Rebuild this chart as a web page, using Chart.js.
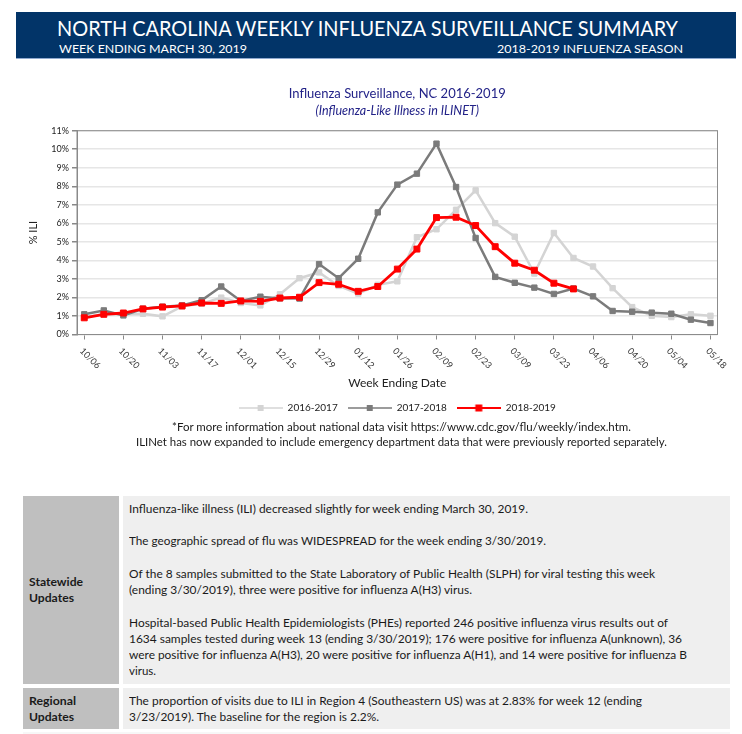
<!DOCTYPE html>
<html>
<head>
<meta charset="utf-8">
<script src="https://cdn.jsdelivr.net/npm/chart.js@4.4.1/dist/chart.umd.min.js"></script>
<style>
  body { margin: 0; background: #fff; font-family: Lato, sans-serif; color: #1a1a1a; }
  .page { position: relative; width: 742px; height: 734px; overflow: hidden; }
  .banner { position: absolute; left: 16px; top: 12px; width: 720px; height: 46px; background: #023468; border-bottom: 1px solid #8fa9cf; }
  .t { position: absolute; white-space: nowrap; transform-origin: 0 50%; }
  .hd { color: #fff; }
  .chartBox { position: absolute; left: 0; top: 78px; width: 742px; height: 345px; }
  .cell { position: absolute; }
  .lab { background: #bfbfbf; }
  .txt { background: #efefef; }
  .tl { font-size: 12px; line-height: 16px; }
  .b { font-weight: bold; }
</style>
</head>
<body>
<div class="page">
  <div class="banner"></div>
  <div class="t hd" style="left:57px;top:15px;font-size:21px;line-height:25px" data-w="621">NORTH CAROLINA WEEKLY INFLUENZA SURVEILLANCE SUMMARY</div>
  <div class="t hd" style="left:59px;top:41.5px;font-size:12px;line-height:14px" data-w="188">WEEK ENDING MARCH 30, 2019</div>
  <div class="t hd" style="left:497px;top:41.5px;font-size:12px;line-height:14px" data-w="186">2018-2019 INFLUENZA SEASON</div>

  <div class="chartBox"><canvas id="iliChart"></canvas></div>

  <div class="t" style="left:172px;top:419.5px;font-size:11px;line-height:14px" data-w="459">*For more information about national data visit https://www.cdc.gov/flu/weekly/index.htm.</div>
  <div class="t" style="left:136px;top:435.3px;font-size:11px;line-height:14px" data-w="531">ILINet has now expanded to include emergency department data that were previously reported separately.</div>

  <div class="cell lab" style="left:23px;top:496px;width:96px;height:188px"></div>
  <div class="cell txt" style="left:123px;top:496px;width:607px;height:188px"></div>
  <div class="cell lab" style="left:23px;top:688px;width:96px;height:41px"></div>
  <div class="cell txt" style="left:123px;top:688px;width:607px;height:41px"></div>
  <div class="cell" style="left:23px;top:732px;width:707px;height:4px;background:#f7f7f7"></div>

  <div class="t tl b" style="left:29px;top:573.7px" data-w="54">Statewide</div>
  <div class="t tl b" style="left:29px;top:589.7px" data-w="45">Updates</div>
  <div class="t tl b" style="left:29px;top:692.7px" data-w="47">Regional</div>
  <div class="t tl b" style="left:29px;top:708.7px" data-w="45">Updates</div>

  <div class="t tl" style="left:129px;top:501px" data-w="399">Influenza-like illness (ILI) decreased slightly for week ending March 30, 2019.</div>
  <div class="t tl" style="left:129px;top:533px" data-w="417">The geographic spread of flu was WIDESPREAD for the week ending 3/30/2019.</div>
  <div class="t tl" style="left:129px;top:566px" data-w="526">Of the 8 samples submitted to the State Laboratory of Public Health (SLPH) for viral testing this week</div>
  <div class="t tl" style="left:129px;top:582px" data-w="343">(ending 3/30/2019), three were positive for influenza A(H3) virus.</div>
  <div class="t tl" style="left:129px;top:615px" data-w="539">Hospital-based Public Health Epidemiologists (PHEs) reported 246 positive influenza virus results out of</div>
  <div class="t tl" style="left:129px;top:631px" data-w="553">1634 samples tested during week 13 (ending 3/30/2019); 176 were positive for influenza A(unknown), 36</div>
  <div class="t tl" style="left:129px;top:647px" data-w="558">were positive for influenza A(H3), 20 were positive for influenza A(H1), and 14 were positive for influenza B</div>
  <div class="t tl" style="left:129px;top:663px" data-w="27">virus.</div>
  <div class="t tl" style="left:129px;top:692.7px" data-w="513">The proportion of visits due to ILI in Region 4 (Southeastern US) was at 2.83% for week 12 (ending</div>
  <div class="t tl" style="left:129px;top:708.7px" data-w="250">3/23/2019). The baseline for the region is 2.2%.</div>
</div>

<script>
// week ending dates, Oct 2018 - May 2019
const weeks = ['10/06', '10/13', '10/20', '10/27', '11/03', '11/10', '11/17', '11/24',
  '12/01', '12/08', '12/15', '12/22', '12/29', '01/05', '01/12', '01/19', '01/26',
  '02/02', '02/09', '02/16', '02/23', '03/02', '03/09', '03/16', '03/23', '03/30',
  '04/06', '04/13', '04/20', '04/27', '05/04', '05/11', '05/18'];

// % ILI per season
const ili1617 = [0.94, 1.09, 1.09, 1.12, 0.98, 1.52, 1.66, 1.99, 1.70, 1.57, 2.17, 3.04,
  3.35, 2.62, 2.21, 2.68, 2.87, 5.25, 5.68, 6.73, 7.78, 6.01, 5.28, 3.29, 5.48, 4.13,
  3.67, 2.50, 1.48, 1.01, 0.94, 1.09, 1.01];
const ili1718 = [1.09, 1.30, 1.03, 1.39, 1.50, 1.57, 1.85, 2.59, 1.81, 2.04, 1.95, 1.94,
  3.80, 3.04, 4.09, 6.59, 8.09, 8.68, 10.30, 7.96, 5.21, 3.11, 2.79, 2.53, 2.19, 2.48,
  2.06, 1.27, 1.23, 1.18, 1.12, 0.80, 0.62];
const ili1819 = [0.90, 1.09, 1.16, 1.38, 1.48, 1.54, 1.70, 1.68, 1.81, 1.79, 1.97, 2.01,
  2.80, 2.71, 2.33, 2.59, 3.53, 4.61, 6.31, 6.33, 5.88, 4.74, 3.85, 3.47, 2.77, 2.46];

const seasons = ['2016-2017', '2017-2018', '2018-2019'];
const yTicks = [0, 1, 2, 3, 4, 5, 6, 7, 8, 9, 10, 11];

const colors = ['#d4d4d4', '#7b7b7b', '#ff0000'];

const toPoints = arr => arr.map((v, i) => ({ x: i, y: v }));

// line + square swatch for the legend
function swatch(color, side) {
  const c = document.createElement('canvas');
  c.width = 44; c.height = 10;
  const g = c.getContext('2d');
  g.strokeStyle = color;
  g.lineWidth = color === '#ff0000' ? 2 : 1.5;
  g.beginPath(); g.moveTo(0, 5); g.lineTo(44, 5); g.stroke();
  g.fillStyle = color;
  g.fillRect(22 - side / 2, 5 - side / 2, side, side);
  return c;
}
const legendImgs = [swatch(colors[0], 6), swatch(colors[1], 6), swatch(colors[2], 7)];

// frame round the plot
const plotFrame = {
  id: 'plotFrame',
  beforeDatasetsDraw(chart) {
    const { ctx, chartArea: a } = chart;
    ctx.save();
    ctx.strokeStyle = '#8c8c8c';
    ctx.lineWidth = 1;
    ctx.strokeRect(a.left, a.top, a.right - a.left, a.bottom - a.top);
    ctx.restore();
  }
};

// slanted week labels, every second week
const weekLabels = {
  id: 'weekLabels',
  afterDraw(chart) {
    const { ctx, scales: { x } } = chart;
    ctx.save();
    ctx.font = '9px Lato';
    ctx.fillStyle = '#333';
    ctx.textBaseline = 'middle';
    ctx.textAlign = 'left';
    weeks.forEach((w, i) => {
      if (i % 2) return;
      ctx.save();
      ctx.translate(x.getPixelForValue(i) - 3, x.top + 15);
      ctx.rotate(Math.PI / 4);
      ctx.fillText(w, 0, 0);
      ctx.restore();
    });
    ctx.restore();
  }
};

Chart.defaults.font.family = 'Lato';
Chart.defaults.color = '#222';

const series = [ili1617, ili1718, ili1819];

new Chart(document.getElementById('iliChart'), {
  type: 'line',
  data: {
    datasets: series.map((s, k) => ({
      label: seasons[k],
      data: toPoints(s),
      borderColor: colors[k],
      backgroundColor: colors[k],
      borderWidth: k === 2 ? 2.8 : 2.5,
      pointStyle: 'rect',
      pointRadius: k === 2 ? 4.2 : 3.8,
      pointBorderWidth: 1,
      pointBorderColor: colors[k],
      pointBackgroundColor: colors[k],
      tension: 0,
      order: 3 - k
    }))
  },
  options: {
    responsive: true,
    maintainAspectRatio: false,
    animation: false,
    layout: { padding: { top: 8, right: 24.5, bottom: 0, left: 0 } },
    scales: {
      x: {
        type: 'linear',
        min: -0.37,
        max: 32.36,
        afterBuildTicks: scale => { scale.ticks = weeks.map((w, i) => ({ value: i })); },
        afterFit: scale => { scale.height = 58.5; },
        ticks: { display: false },
        grid: {
          drawOnChartArea: false,
          tickLength: 5,
          tickColor: c => (c.index % 2 ? 'rgba(0,0,0,0)' : '#888')
        },
        border: { color: '#888' },
        title: {
          display: true,
          text: 'Week Ending Date',
          font: { size: 12 },
          color: '#222',
          padding: { top: 0, bottom: 2.3 }
        }
      },
      y: {
        min: 0,
        max: 11,
        afterBuildTicks: scale => { scale.ticks = yTicks.map(v => ({ value: v })); },
        afterFit: scale => { scale.width = 77; },
        ticks: {
          callback: v => v + '%',
          font: { size: 9 },
          color: '#222',
          padding: 3
        },
        grid: { color: '#e6e6e6', lineWidth: 1.5, tickLength: 5, tickColor: '#888' },
        border: { color: '#888' },
        title: {
          display: true,
          text: '% ILI',
          font: { size: 11 },
          color: '#222',
          padding: { top: 26.7, bottom: 0 }
        }
      }
    },
    plugins: {
      title: {
        display: true,
        fullSize: false,
        text: 'Influenza Surveillance, NC 2016-2019',
        color: '#232388',
        font: { size: 13, weight: 'normal' },
        padding: { top: 0, bottom: 0 }
      },
      subtitle: {
        display: true,
        fullSize: false,
        text: '(Influenza-Like Illness in ILINET)',
        color: '#232388',
        font: { size: 12.5, style: 'italic' },
        padding: { top: 1.5, bottom: 12.6 }
      },
      legend: {
        position: 'bottom',
        fullSize: false,
        labels: {
          usePointStyle: true,
          pointStyleWidth: 44,
          padding: 10,
          font: { size: 10 },
          color: '#222',
          sort: (a, b) => a.datasetIndex - b.datasetIndex,
          generateLabels: chart => Chart.defaults.plugins.legend.labels.generateLabels(chart)
            .map(item => Object.assign(item, { pointStyle: legendImgs[item.datasetIndex] }))
        }
      },
      tooltip: { enabled: false }
    }
  },
  plugins: [plotFrame, weekLabels]
});

// squeeze text runs to the widths measured on the original page
function fitText() {
  document.querySelectorAll('[data-w]').forEach(el => {
    const w = el.getBoundingClientRect().width;
    el.style.transform = 'scaleX(' + (parseFloat(el.dataset.w) / w) + ')';
  });
}
if (document.fonts && document.fonts.ready) {
  document.fonts.ready.then(fitText);
} else {
  fitText();
}
</script>
</body>
</html>
